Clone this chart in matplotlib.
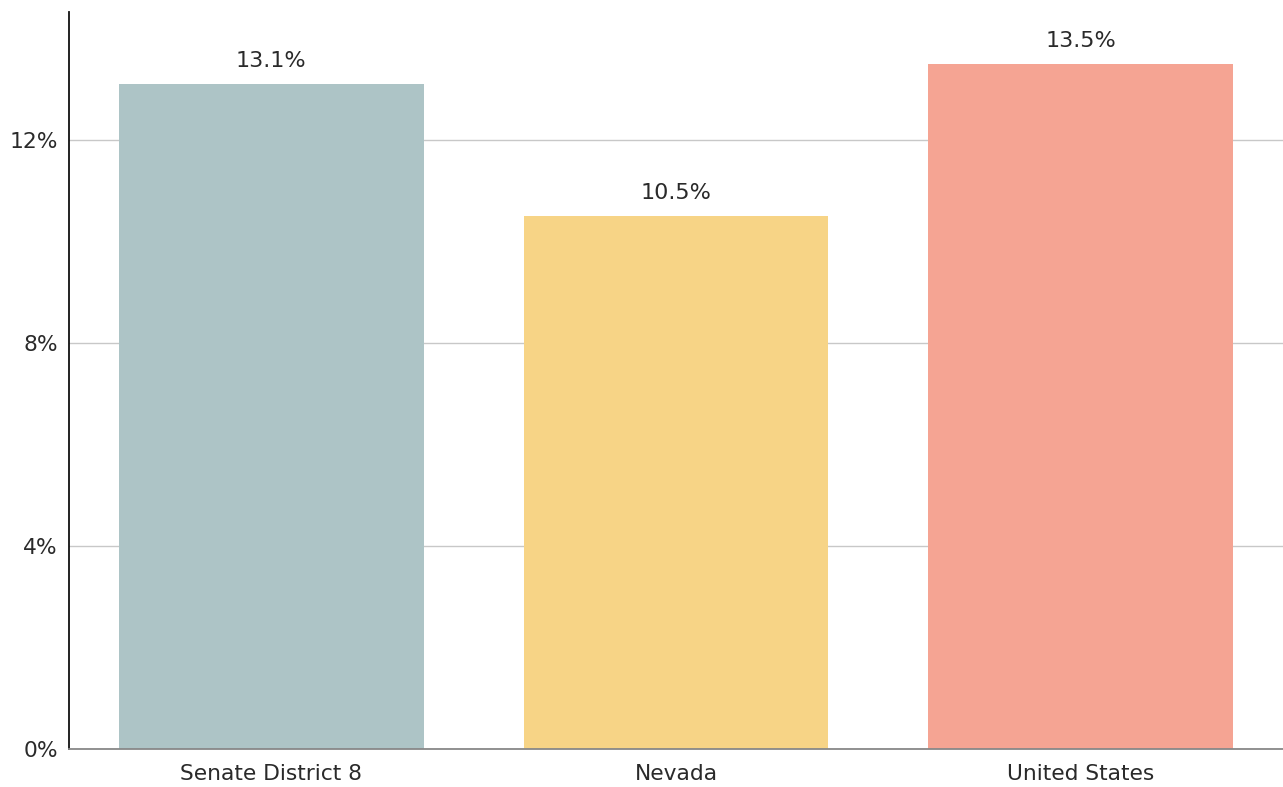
import matplotlib
matplotlib.use("Agg")
from matplotlib import pyplot as plt
from matplotlib.ticker import FuncFormatter

categories = ["Senate District 8", "Nevada", "United States"]
values = [13.1, 10.5, 13.5]
colors = ["#adc4c6", "#f7d486", "#f5a493"]
y_ticks = [0, 4, 8, 12]

plt.rcParams['font.family'] = ['DejaVu Sans']

fig = plt.figure(figsize=(12.83, 7.87), dpi=100)
ax = fig.add_axes([0.0538, 0.0483, 0.9462, 0.9365])

x = list(range(len(categories)))
ax.bar(x, values, width=0.753, color=colors, zorder=2)

for xi, v in zip(x, values):
    ax.text(xi, v + 0.33, f"{v:.1f}%", ha="center", va="baseline",
            fontsize=16, color="#2a2a2a")

ax.set_xlim(-0.5, 2.5)
ax.set_ylim(0, 14.52)
ax.set_yticks(y_ticks)
ax.yaxis.set_major_formatter(FuncFormatter(lambda v, p: f"{v:.0f}%"))
ax.set_xticks(x)
ax.set_xticklabels(categories)
ax.tick_params(axis="both", length=0, labelsize=15.7, colors="#2a2a2a")
ax.tick_params(axis="x", pad=11)
ax.tick_params(axis="y", pad=8)

ax.grid(axis="y", color="#c8c8c8", linewidth=1, zorder=0)
ax.set_axisbelow(True)
for s in ["top", "right"]:
    ax.spines[s].set_visible(False)
ax.spines["left"].set_color("#111111")
ax.spines["left"].set_linewidth(1.3)
ax.spines["bottom"].set_color("#888888")
ax.spines["bottom"].set_linewidth(1.3)

fig.savefig("out.png", dpi=100)
